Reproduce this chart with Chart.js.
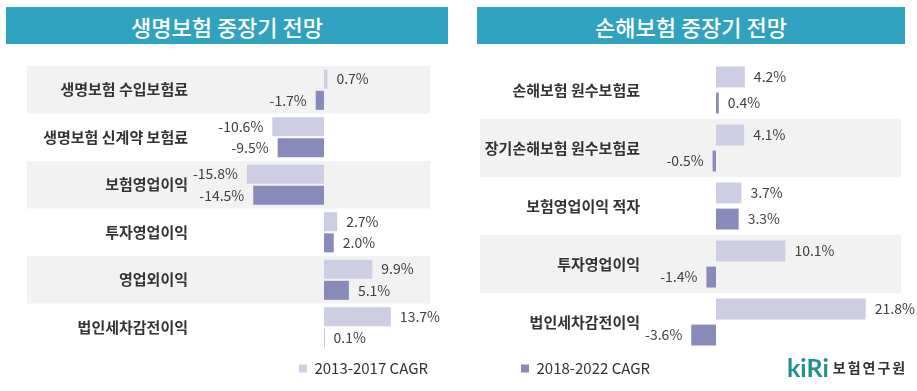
<!DOCTYPE html>
<html>
<head>
<meta charset="utf-8">
<script src="https://cdn.jsdelivr.net/npm/chart.js@4.4.0/dist/chart.umd.min.js"></script>
<style>
  body { margin: 0; background: #fff; width: 917px; height: 391px; position: relative; overflow: hidden;
         font-family: "Noto Sans CJK KR", "Noto Sans", sans-serif; }
  .head { position: absolute; top: 7px; height: 37px; background: #2fa3bf; color: #fff;
          font-size: 22px; font-weight: 500; display: flex; align-items: center; justify-content: center; }
  #leftWrap { position: absolute; left: 0; top: 50px; width: 460px; height: 341px; }
  #rightWrap { position: absolute; left: 460px; top: 50px; width: 457px; height: 341px; }
  .logo { position: absolute; left: 787px; top: 352px; white-space: nowrap; }
  .logo .k { color: #1f9192; font-family: Lato, sans-serif; font-size: 25px; font-weight: bold; vertical-align: middle; }
  .logo .t { color: #333; font-size: 14px; font-weight: bold; letter-spacing: 2px; vertical-align: middle; margin-left: 4px; }
</style>
</head>
<body>
<div class="head" style="left:6px;width:442px;">생명보험 중장기 전망</div>
<div class="head" style="left:477px;width:428px;">손해보험 중장기 전망</div>
<div id="leftWrap"><canvas id="lifeChart" width="460" height="341"></canvas></div>
<div id="rightWrap"><canvas id="nonlifeChart" width="457" height="341"></canvas></div>
<div class="logo"><span class="k">kiRi</span><span class="t">보험연구원</span></div>
<script>
const seriesNames = ['2013-2017 CAGR', '2018-2022 CAGR'];

const lifeLabels = ['생명보험 수입보험료', '생명보험 신계약 보험료', '보험영업이익', '투자영업이익', '영업외이익', '법인세차감전이익'];
const life2013 = [0.7, -10.6, -15.8, 2.7, 9.9, 13.7];
const life2018 = [-1.7, -9.5, -14.5, 2.0, 5.1, 0.1];

const nonlifeLabels = ['손해보험 원수보험료', '장기손해보험 원수보험료', '보험영업이익 적자', '투자영업이익', '법인세차감전이익'];
const nonlife2013 = [4.2, 4.1, 3.7, 10.1, 21.8];
const nonlife2018 = [0.4, -0.5, 3.3, -1.4, -3.6];

const lightColor = '#cdcee3';
const darkColor = '#888bb9';

// grey row bands behind the categories
const bandPlugin = {
  id: 'bands',
  beforeDraw(chart, args, opts) {
    const y = chart.scales.y;
    const ctx = chart.ctx;
    const n = chart.data.labels.length;
    const step = (y.bottom - y.top) / n;
    ctx.save();
    ctx.fillStyle = '#f2f2f2';
    for (let i = 0; i < n; i++) {
      if (i % 2 !== opts.parity) continue;
      const c = y.getPixelForValue(i);
      ctx.fillRect(opts.x0, c - step / 2, opts.x1 - opts.x0, step);
    }
    ctx.restore();
  }
};

// value labels next to bar ends
const valuePlugin = {
  id: 'values',
  afterDatasetsDraw(chart) {
    const ctx = chart.ctx;
    ctx.save();
    ctx.font = '14px "Noto Sans CJK KR", sans-serif';
    ctx.fillStyle = '#404040';
    ctx.textBaseline = 'middle';
    chart.data.datasets.forEach((ds, di) => {
      chart.getDatasetMeta(di).data.forEach((bar, i) => {
        const v = ds.data[i];
        const txt = v.toFixed(1) + '%';
        if (v >= 0) {
          ctx.textAlign = 'left';
          ctx.fillText(txt, bar.x + 9, bar.y);
        } else {
          ctx.textAlign = 'right';
          ctx.fillText(txt, bar.x - 9, bar.y);
        }
      });
    });
    ctx.restore();
  }
};

// move the legend sideways without touching the plot area
const legendShift = {
  id: 'legendShift',
  afterLayout(chart, args, opts) {
    if (opts.dx) {
      chart.legend.left += opts.dx;
      chart.legend.right += opts.dx;
    }
  }
};

function makeChart(id, labels, s1, s2, cfg) {
  return new Chart(document.getElementById(id), {
    type: 'bar',
    data: {
      labels: labels,
      datasets: [
        { label: seriesNames[0], data: s1, backgroundColor: lightColor, categoryPercentage: cfg.cp, barPercentage: cfg.bp },
        { label: seriesNames[1], data: s2, backgroundColor: darkColor, categoryPercentage: cfg.cp, barPercentage: cfg.bp }
      ]
    },
    options: {
      indexAxis: 'y',
      responsive: false,
      animation: false,
      layout: { padding: cfg.padding },
      plugins: {
        tooltip: { enabled: false },
        bands: { parity: cfg.parity, x0: cfg.x0, x1: cfg.x1 },
        legendShift: { dx: cfg.legendDx },
        legend: {
          position: 'bottom',
          align: cfg.legendAlign,
          labels: {
            boxWidth: 8,
            boxHeight: 8,
            padding: 10,
            color: '#333',
            font: { family: '"Noto Sans CJK KR", sans-serif', size: 15 },
            filter: item => item.datasetIndex === cfg.legendIndex
          }
        }
      },
      scales: {
        x: { display: false, min: cfg.min, max: cfg.max },
        y: {
          grid: { display: false, drawTicks: false },
          border: { display: false },
          ticks: {
            color: '#333',
            padding: cfg.tickPad,
            font: { family: '"Noto Sans CJK KR", sans-serif', size: 15, weight: 'bold' }
          },
          afterFit(scale) {
            scale.width = cfg.axisWidth;
            scale.paddingTop = 0;
            scale.paddingBottom = 0;
          }
        }
      }
    },
    plugins: [bandPlugin, valuePlugin, legendShift]
  });
}

makeChart('lifeChart', lifeLabels, life2013, life2018, {
  cp: 0.89, bp: 0.9, parity: 0, x0: 27, x1: 430,
  padding: { left: 0, right: 22, top: 16, bottom: 5 },
  axisWidth: 202, tickPad: 14, min: -25, max: 23.36,
  legendAlign: 'end', legendIndex: 0, legendDx: 0
});

makeChart('nonlifeChart', nonlifeLabels, nonlife2013, nonlife2018, {
  cp: 0.9, bp: 0.8, parity: 1, x0: 20, x1: 441,
  padding: { left: 0, right: 16, top: 11, bottom: 5 },
  axisWidth: 215, tickPad: 35, min: -5.97, max: 26.93,
  legendAlign: 'start', legendIndex: 1, legendDx: 51
});
</script>
</body>
</html>
